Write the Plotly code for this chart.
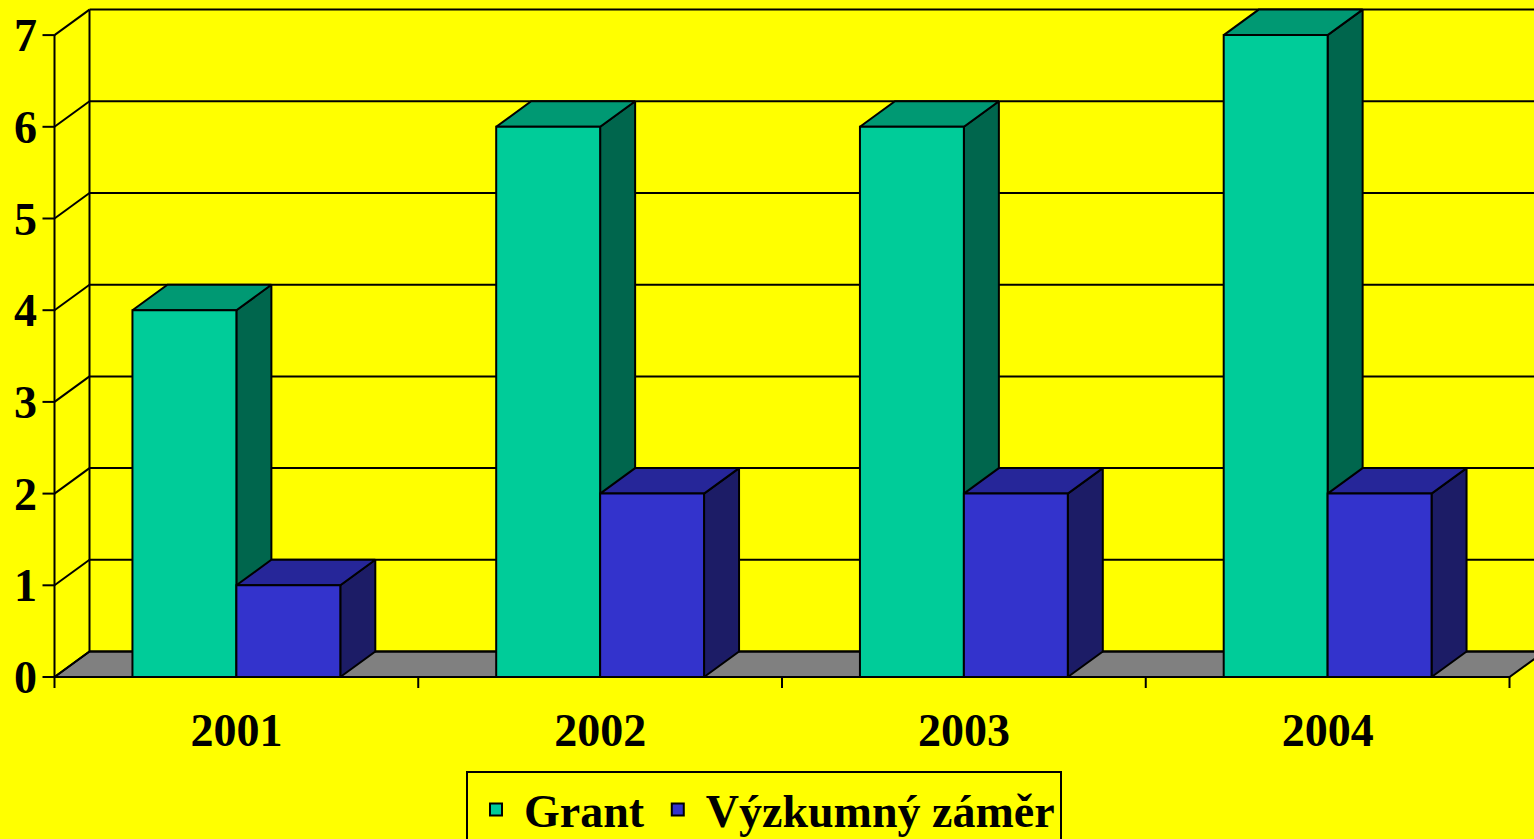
import plotly.graph_objects as go

# ---------------- data ----------------
years = ["2001", "2002", "2003", "2004"]
grant = [4, 6, 6, 7]
vyzkumny = [1, 2, 2, 2]
y_ticks = [0, 1, 2, 3, 4, 5, 6, 7]
series_names = ["Grant", "Výzkumný záměr"]

# ---------------- styling / geometry ----------------
W, H = 1534, 839
ML, MB = 40, 149
U = 363.75          # px per category
V = 91.7            # px per value unit
X_FRONT_PX = 54.5
Y_ZERO_PX = 677
DX = 35 / U         # 3-D depth offset (x)
DY = 25.5 / V       # 3-D depth offset (y)
BW = 1 / 3.5        # bar width, gap width 150 %
LW = 2
FONT = "Liberation Serif, Times New Roman, serif"
YELLOW = "#FFFF00"
FS = 46

colors = {
    "Grant": ("#00CC99", "#009973", "#00664D"),
    "Výzkumný záměr": ("#3333CC", "#262699", "#1C1C66"),
}

x_min = -0.5 - (X_FRONT_PX - ML) / U
x_max = -0.5 + (W - X_FRONT_PX) / U
y_min = -((H - MB) - Y_ZERO_PX) / V
y_max = Y_ZERO_PX / V

n = len(years)
x_left, x_right = -0.5, n - 0.5
y_top = max(y_ticks)


def polys(list_of_pts):
    xs, ys = [], []
    for pts in list_of_pts:
        for (a, b) in pts + [pts[0]]:
            xs.append(a)
            ys.append(b)
        xs.append(None)
        ys.append(None)
    return xs, ys


def segs(list_of_segs):
    xs, ys = [], []
    for (a, b), (c, d) in list_of_segs:
        xs += [a, c, None]
        ys += [b, d, None]
    return xs, ys


fig = go.Figure()

# floor
fx, fy = polys([[(x_left, 0), (x_right, 0), (x_right + DX, DY), (x_left + DX, DY)]])
fig.add_trace(go.Scatter(x=fx, y=fy, mode="lines", fill="toself", fillcolor="#808080",
                         line=dict(color="black", width=LW), showlegend=False,
                         hoverinfo="skip", zorder=0))

# back wall gridlines + left wall
grid = [((x_left + DX, k + DY), (x_right + DX, k + DY)) for k in y_ticks]
side = [((x_left, k), (x_left + DX, k + DY)) for k in y_ticks]
side.append(((x_left + DX, DY), (x_left + DX, y_top + DY)))
gx, gy = segs(grid + side)
fig.add_trace(go.Scatter(x=gx, y=gy, mode="lines", line=dict(color="black", width=LW),
                         showlegend=False, hoverinfo="skip", zorder=0))

# bars
z = 1
for name, vals, off in [(series_names[0], grant, -BW), (series_names[1], vyzkumny, 0.0)]:
    front_c, top_c, side_c = colors[name]
    tops, sides = [], []
    for i, v in enumerate(vals):
        xl = i + off
        xr = xl + BW
        tops.append([(xl, v), (xr, v), (xr + DX, v + DY), (xl + DX, v + DY)])
        sides.append([(xr, 0), (xr, v), (xr + DX, v + DY), (xr + DX, DY)])
    tx, ty = polys(tops)
    sx, sy = polys(sides)
    fig.add_trace(go.Scatter(x=sx, y=sy, mode="lines", fill="toself", fillcolor=side_c,
                             line=dict(color="black", width=LW), showlegend=False,
                             hoverinfo="skip", zorder=z))
    fig.add_trace(go.Scatter(x=tx, y=ty, mode="lines", fill="toself", fillcolor=top_c,
                             line=dict(color="black", width=LW), showlegend=False,
                             hoverinfo="skip", zorder=z))
    fig.add_trace(go.Bar(x=list(range(n)), y=vals, width=BW, offset=off, name=name,
                         marker=dict(color=front_c, line=dict(color="black", width=LW)),
                         zorder=z + 1))
    z += 2

# front axes and tick marks
axis = [((x_left, 0), (x_left, y_top)), ((x_left, 0), (x_right, 0))]
axis += [((x_left - 12 / U, k), (x_left, k)) for k in y_ticks]
axis += [((x_left + j, 0), (x_left + j, -11 / V)) for j in range(n + 1)]
ax_x, ax_y = segs(axis)
fig.add_trace(go.Scatter(x=ax_x, y=ax_y, mode="lines", line=dict(color="black", width=LW),
                         showlegend=False, hoverinfo="skip", zorder=z + 1))

tickfont = dict(family=FONT, size=FS, color="black", weight="bold")
fig.update_layout(
    width=W, height=H,
    margin=dict(l=ML, r=0, t=0, b=MB, pad=0),
    paper_bgcolor=YELLOW, plot_bgcolor=YELLOW,
    barmode="overlay",
    hovermode=False,
    font=dict(family=FONT, size=FS, color="black", weight="bold"),
    xaxis=dict(range=[x_min, x_max], tickmode="array", tickvals=list(range(n)),
               ticktext=years, showgrid=False, zeroline=False, showline=False,
               ticks="", ticklabelstandoff=9, tickfont=tickfont),
    yaxis=dict(range=[y_min, y_max], tickmode="array", tickvals=y_ticks,
               ticktext=[str(t) for t in y_ticks], showgrid=False, zeroline=False,
               showline=False, ticks="", ticklabelstandoff=2, tickfont=tickfont),
    legend=dict(orientation="h", xref="container", yref="container",
                x=764 / W, xanchor="center", y=1 - 771 / H, yanchor="top",
                bgcolor=YELLOW, bordercolor="black", borderwidth=2,
                itemwidth=46,
                font=dict(family=FONT, size=FS, color="black", weight="bold"),
                traceorder="normal"),
)

fig.write_html(
    "out.html",
    config={"displayModeBar": False},
    post_script="document.body.style.margin='0px';document.body.style.background='#FFFF00';",
)
